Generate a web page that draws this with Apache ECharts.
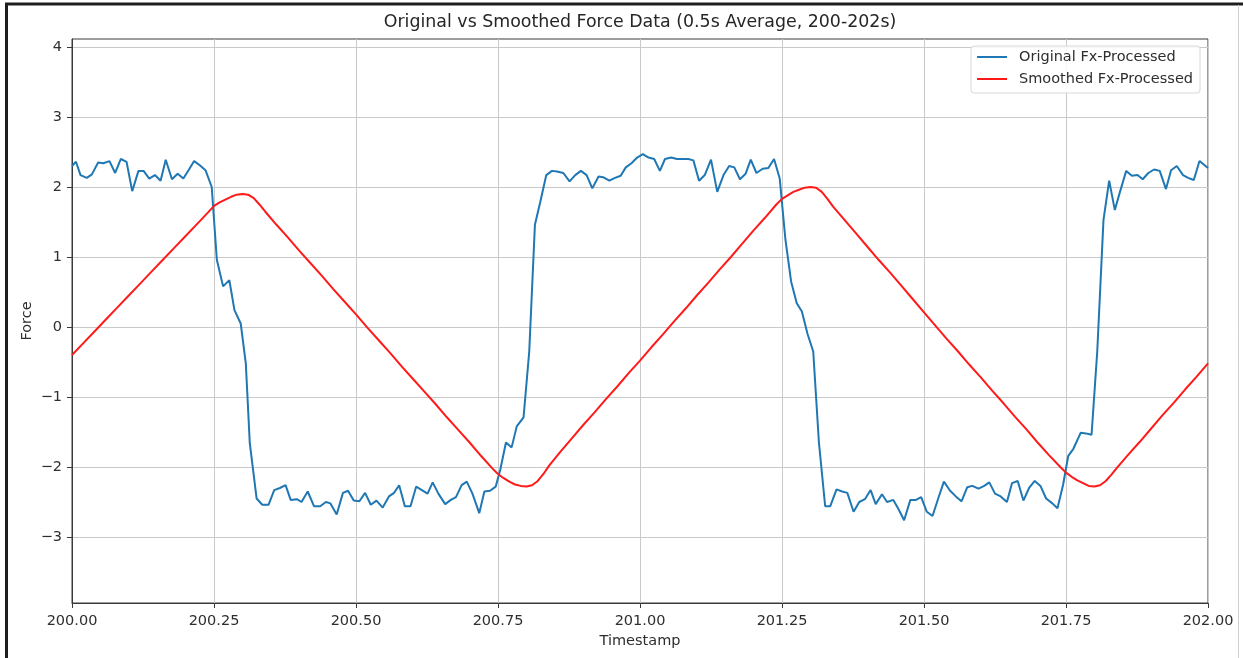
<!DOCTYPE html>
<html>
<head>
<meta charset="utf-8">
<title>Original vs Smoothed Force Data</title>
<script src="https://cdn.jsdelivr.net/npm/echarts@6/dist/echarts.min.js"></script>
<style>
  html, body { margin: 0; padding: 0; background: #ffffff; }
  #chart { width: 1243px; height: 658px; }
</style>
</head>
<body>
<div id="chart"></div>
<script>
// Raw force samples (Fx-Processed), timestamp in seconds
const originalTime = [
  200.000, 200.007, 200.015, 200.026, 200.035, 200.046, 200.055, 200.066, 200.076, 200.086,
  200.096, 200.106, 200.117, 200.126, 200.136, 200.146, 200.156, 200.165, 200.176, 200.186,
  200.196, 200.206, 200.215, 200.225, 200.235, 200.246, 200.255, 200.266, 200.277, 200.286,
  200.297, 200.306, 200.313, 200.325, 200.335, 200.346, 200.356, 200.366, 200.376, 200.385,
  200.396, 200.404, 200.415, 200.426, 200.437, 200.447, 200.455, 200.466, 200.477, 200.486,
  200.496, 200.506, 200.516, 200.526, 200.536, 200.547, 200.558, 200.567, 200.576, 200.586,
  200.596, 200.606, 200.616, 200.626, 200.635, 200.645, 200.657, 200.667, 200.676, 200.686,
  200.695, 200.705, 200.717, 200.726, 200.736, 200.746, 200.754, 200.764, 200.774, 200.783,
  200.795, 200.805, 200.815, 200.824, 200.835, 200.845, 200.854, 200.865, 200.876, 200.886,
  200.896, 200.906, 200.916, 200.927, 200.935, 200.946, 200.956, 200.966, 200.975, 200.985,
  200.995, 201.005, 201.015, 201.025, 201.035, 201.044, 201.055, 201.065, 201.073, 201.085,
  201.094, 201.104, 201.114, 201.125, 201.136, 201.147, 201.157, 201.166, 201.176, 201.186,
  201.195, 201.205, 201.216, 201.226, 201.236, 201.246, 201.256, 201.266, 201.276, 201.285,
  201.295, 201.305, 201.315, 201.326, 201.335, 201.346, 201.356, 201.365, 201.376, 201.386,
  201.396, 201.406, 201.415, 201.426, 201.435, 201.446, 201.455, 201.465, 201.476, 201.486,
  201.495, 201.505, 201.515, 201.525, 201.535, 201.546, 201.556, 201.566, 201.576, 201.585,
  201.596, 201.606, 201.615, 201.625, 201.635, 201.646, 201.655, 201.665, 201.675, 201.685,
  201.695, 201.705, 201.715, 201.726, 201.735, 201.745, 201.754, 201.763, 201.776, 201.785,
  201.795, 201.805, 201.816, 201.826, 201.836, 201.845, 201.856, 201.866, 201.876, 201.885,
  201.895, 201.905, 201.915, 201.926, 201.935, 201.945, 201.956, 201.965, 201.975, 201.985,
  202.000
];
const originalForce = [
  2.30, 2.36, 2.17, 2.13, 2.18, 2.35, 2.34, 2.37, 2.20, 2.40,
  2.36, 1.94, 2.23, 2.23, 2.12, 2.17, 2.09, 2.39, 2.11, 2.19,
  2.12, 2.25, 2.37, 2.31, 2.24, 2.00, 0.96, 0.58, 0.67, 0.24,
  0.05, -0.52, -1.66, -2.45, -2.54, -2.54, -2.33, -2.30, -2.26, -2.47,
  -2.46, -2.50, -2.35, -2.56, -2.56, -2.50, -2.52, -2.68, -2.37, -2.34,
  -2.48, -2.49, -2.37, -2.54, -2.48, -2.58, -2.42, -2.37, -2.26, -2.56,
  -2.56, -2.28, -2.33, -2.38, -2.22, -2.38, -2.53, -2.47, -2.43, -2.26,
  -2.21, -2.38, -2.66, -2.35, -2.34, -2.28, -2.04, -1.65, -1.72, -1.42,
  -1.29, -0.35, 1.46, 1.77, 2.17, 2.23, 2.22, 2.20, 2.08, 2.17,
  2.23, 2.17, 1.98, 2.15, 2.14, 2.09, 2.13, 2.16, 2.28, 2.34,
  2.42, 2.47, 2.42, 2.40, 2.23, 2.40, 2.42, 2.40, 2.40, 2.40,
  2.38, 2.09, 2.17, 2.39, 1.93, 2.17, 2.30, 2.28, 2.11, 2.19,
  2.39, 2.20, 2.26, 2.27, 2.40, 2.12, 1.25, 0.65, 0.34, 0.22,
  -0.10, -0.35, -1.65, -2.56, -2.56, -2.32, -2.35, -2.37, -2.64, -2.50,
  -2.46, -2.33, -2.53, -2.39, -2.50, -2.47, -2.60, -2.76, -2.47, -2.47,
  -2.43, -2.64, -2.70, -2.45, -2.21, -2.34, -2.42, -2.49, -2.29, -2.27,
  -2.31, -2.27, -2.22, -2.38, -2.42, -2.50, -2.23, -2.20, -2.48, -2.30,
  -2.20, -2.27, -2.45, -2.52, -2.59, -2.25, -1.84, -1.74, -1.51, -1.52,
  -1.54, -0.35, 1.53, 2.09, 1.67, 1.93, 2.23, 2.16, 2.17, 2.11,
  2.20, 2.25, 2.23, 1.97, 2.24, 2.30, 2.17, 2.13, 2.10, 2.37,
  2.27
];

// 0.5 s moving-average force
const smoothedTime = [
  200.00, 200.02, 200.04, 200.06, 200.08, 200.10, 200.12, 200.14, 200.16, 200.18,
  200.20, 200.22, 200.24, 200.25, 200.26, 200.27, 200.28, 200.29, 200.30, 200.31,
  200.32, 200.33, 200.34, 200.36, 200.38, 200.40, 200.42, 200.44, 200.46, 200.48,
  200.50, 200.52, 200.54, 200.56, 200.58, 200.60, 200.62, 200.64, 200.66, 200.68,
  200.70, 200.72, 200.74, 200.75, 200.76, 200.77, 200.78, 200.79, 200.80, 200.81,
  200.82, 200.83, 200.84, 200.86, 200.88, 200.90, 200.92, 200.94, 200.96, 200.98,
  201.00, 201.02, 201.04, 201.06, 201.08, 201.10, 201.12, 201.14, 201.16, 201.18,
  201.20, 201.22, 201.24, 201.25, 201.26, 201.27, 201.28, 201.29, 201.30, 201.31,
  201.32, 201.33, 201.34, 201.36, 201.38, 201.40, 201.42, 201.44, 201.46, 201.48,
  201.50, 201.52, 201.54, 201.56, 201.58, 201.60, 201.62, 201.64, 201.66, 201.68,
  201.70, 201.72, 201.74, 201.75, 201.76, 201.77, 201.78, 201.79, 201.80, 201.81,
  201.82, 201.83, 201.84, 201.86, 201.88, 201.90, 201.92, 201.94, 201.96, 201.98,
  202.00
];
const smoothedForce = [
  -0.40, -0.23, -0.06, 0.11, 0.28, 0.45, 0.62, 0.79, 0.96, 1.13,
  1.30, 1.47, 1.64, 1.73, 1.78, 1.82, 1.86, 1.89, 1.90, 1.89,
  1.84, 1.75, 1.65, 1.46, 1.28, 1.09, 0.91, 0.73, 0.54, 0.36,
  0.18, -0.01, -0.19, -0.37, -0.56, -0.74, -0.92, -1.10, -1.29, -1.47,
  -1.65, -1.84, -2.02, -2.10, -2.16, -2.21, -2.25, -2.27, -2.28, -2.26,
  -2.20, -2.10, -1.98, -1.78, -1.59, -1.40, -1.22, -1.03, -0.85, -0.66,
  -0.48, -0.29, -0.11, 0.08, 0.26, 0.45, 0.63, 0.82, 1.00, 1.19,
  1.38, 1.56, 1.75, 1.83, 1.88, 1.93, 1.96, 1.99, 2.00, 1.99,
  1.93, 1.83, 1.72, 1.53, 1.34, 1.15, 0.96, 0.78, 0.59, 0.40,
  0.21, 0.02, -0.17, -0.35, -0.54, -0.72, -0.91, -1.09, -1.28, -1.46,
  -1.65, -1.83, -2.00, -2.08, -2.14, -2.19, -2.23, -2.27, -2.28, -2.26,
  -2.20, -2.11, -2.01, -1.82, -1.64, -1.45, -1.26, -1.08, -0.89, -0.71,
  -0.52
];

// Axis ticks
const forceTicks = [-3, -2, -1, 0, 1, 2, 3, 4];
const timeTickStep = 0.25;

const FONT = '"DejaVu Sans", "Noto Sans", sans-serif';
const INK = '#2e2e2e';

const originalData = originalTime.map((t, i) => [t, originalForce[i]]);
const smoothedData = smoothedTime.map((t, i) => [t, smoothedForce[i]]);

const chart = echarts.init(document.getElementById('chart'), null, { renderer: 'canvas' });

chart.setOption({
  animation: false,
  backgroundColor: '#ffffff',
  textStyle: { fontFamily: FONT },
  grid: {
    left: 72, right: 35, top: 39, bottom: 55,
    show: true, borderColor: '#3a3a3a', borderWidth: 1, backgroundColor: 'transparent'
  },
  legend: {
    orient: 'vertical',
    right: 43,
    top: 46,
    padding: [3, 7, 6, 6],
    itemGap: 6,
    itemWidth: 30,
    itemHeight: 2,
    icon: 'rect',
    backgroundColor: 'rgba(255,255,255,0.85)',
    borderColor: '#d8d8d8',
    borderWidth: 1,
    borderRadius: 3,
    textStyle: { fontFamily: FONT, fontSize: 14.5, color: INK, lineHeight: 16, padding: [0, 0, 0, 7] },
    data: ['Original Fx-Processed', 'Smoothed Fx-Processed']
  },
  xAxis: {
    type: 'value',
    min: 200,
    max: 202,
    interval: timeTickStep,
    name: 'Timestamp',
    nameLocation: 'middle',
    nameGap: 31,
    nameMoveOverlap: false,
    nameTextStyle: { fontFamily: FONT, fontSize: 14.5, color: INK },
    axisLine: { show: true, onZero: false, lineStyle: { color: '#3a3a3a', width: 1 } },
    axisTick: { show: true, inside: false, length: 5, lineStyle: { color: '#3a3a3a', width: 1 } },
    axisLabel: {
      fontFamily: FONT, fontSize: 14.5, color: INK, margin: 11,
      formatter: v => v.toFixed(2)
    },
    splitLine: { show: true, lineStyle: { color: '#c9c9c9', width: 1 } }
  },
  yAxis: {
    type: 'value',
    min: -3.943,
    max: 4.114,
    name: 'Force',
    nameLocation: 'middle',
    nameGap: 37,
    nameMoveOverlap: false,
    nameRotate: 90,
    nameTextStyle: { fontFamily: FONT, fontSize: 14.5, color: INK },
    axisLine: { show: true, onZero: false, lineStyle: { color: '#3a3a3a', width: 1 } },
    axisTick: { show: true, inside: false, length: 5, customValues: forceTicks, lineStyle: { color: '#3a3a3a', width: 1 } },
    axisLabel: {
      fontFamily: FONT, fontSize: 14.5, color: INK, margin: 10,
      customValues: forceTicks,
      formatter: v => (v < 0 ? '\u2212' + Math.abs(v) : String(v))
    },
    splitLine: { show: true, lineStyle: { color: '#c9c9c9', width: 1 } }
  },
  graphic: [
    {
      type: 'text', x: 640, y: 22,
      style: {
        text: 'Original vs Smoothed Force Data (0.5s Average, 200-202s)',
        font: '17.4px "DejaVu Sans", "Noto Sans", sans-serif',
        fill: '#262626', textAlign: 'center', textVerticalAlign: 'middle'
      }
    },
    { type: 'line', shape: { x1: 5, y1: 4, x2: 1243, y2: 4 }, style: { stroke: '#1e1e1e', lineWidth: 3 } },
    { type: 'line', shape: { x1: 6.5, y1: 3, x2: 6.5, y2: 658 }, style: { stroke: '#1e1e1e', lineWidth: 3 } },
    { type: 'line', shape: { x1: 1238.5, y1: 5, x2: 1238.5, y2: 658 }, style: { stroke: '#d0d0d0', lineWidth: 1 } }
  ],
  series: [
    {
      name: 'Original Fx-Processed',
      type: 'line',
      data: originalData,
      showSymbol: false,
      symbol: 'none',
      lineStyle: { color: '#1f77b4', width: 2 },
      itemStyle: { color: '#1f77b4' },
      z: 3
    },
    {
      name: 'Smoothed Fx-Processed',
      type: 'line',
      data: smoothedData,
      showSymbol: false,
      symbol: 'none',
      lineStyle: { color: '#ff1a1a', width: 2 },
      itemStyle: { color: '#ff1a1a' },
      z: 4
    }
  ]
});
</script>
</body>
</html>
